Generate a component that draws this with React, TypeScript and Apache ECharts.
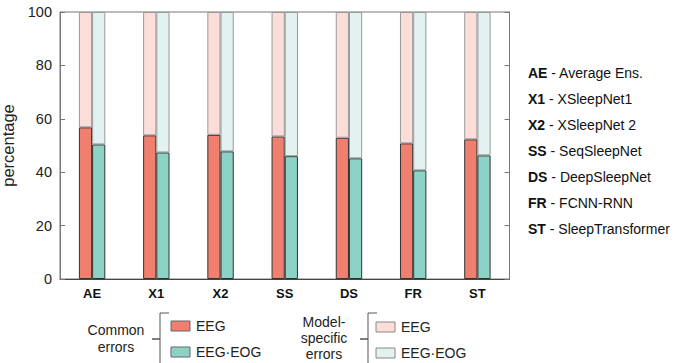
import React, { useEffect, useRef } from "react";
import * as echarts from "echarts";

const categories = ["AE", "X1", "X2", "SS", "DS", "FR", "ST"];
const commonEEG = [56.8, 53.8, 54.0, 53.4, 52.9, 50.8, 52.3];
const commonEEGEOG = [50.4, 47.4, 47.8, 46.0, 45.2, 40.7, 46.3];
const yTicks = [0, 20, 40, 60, 80, 100];
const modelNames = [
  ["AE", "Average Ens."],
  ["X1", "XSleepNet1"],
  ["X2", "XSleepNet 2"],
  ["SS", "SeqSleepNet"],
  ["DS", "DeepSleepNet"],
  ["FR", "FCNN-RNN"],
  ["ST", "SleepTransformer"],
];

const FONT = "'Liberation Sans', Arial, Helvetica, sans-serif";
const C_EEG = "#F17F6F";
const C_EOG = "#8CD2C5";
const C_EEG_L = "#FBDEDA";
const C_EOG_L = "#E2F2F0";

export default function App() {
  const ref = useRef<HTMLDivElement>(null);
  useEffect(() => {
    if (!ref.current) return;
    const chart = echarts.init(ref.current, undefined, { renderer: "svg" });
    const specEEG = commonEEG.map((v) => +(100 - v).toFixed(2));
    const specEOG = commonEEGEOG.map((v) => +(100 - v).toFixed(2));

    const legendRows: any[] = modelNames.map((m, i) => ({
      type: "text",
      x: 528,
      y: 73 + i * 26,
      style: {
        text: `{b|${m[0]}}{n| - ${m[1]}}`,
        fontFamily: FONT,
        fontSize: 14,
        fill: "#111",
        verticalAlign: "middle",
        rich: {
          b: { fontWeight: "bold", fontSize: 14, fontFamily: FONT, fill: "#111" },
          n: { fontWeight: "normal", fontSize: 14, fontFamily: FONT, fill: "#111" },
        },
      },
    }));

    const txt = (text: string, x: number, y: number, align = "center") => ({
      type: "text",
      x,
      y,
      style: {
        text,
        fontFamily: FONT,
        fontSize: 14,
        fill: "#222",
        align,
        verticalAlign: "middle",
      },
    });
    const swatch = (x: number, y: number, fill: string, stroke: string) => ({
      type: "rect",
      shape: { x, y, width: 19, height: 10 },
      style: { fill, stroke, lineWidth: 1 },
    });
    const bracket = (x: number) => ({
      type: "polyline",
      shape: {
        points: [
          [x + 9, 313],
          [x, 313],
          [x, 339],
          [x - 8, 339],
          [x, 339],
          [x, 365],
          [x + 9, 365],
        ],
      },
      style: { stroke: "#555", lineWidth: 1, fill: null },
    });

    chart.setOption({
      animation: false,
      grid: {
        left: 60,
        right: 164.5,
        top: 12,
        bottom: 84,
        containLabel: false,
        outerBoundsMode: "none",
        show: true,
        borderColor: "#777",
        borderWidth: 1,
      },
      xAxis: {
        type: "category",
        data: categories,
        axisLine: { show: true, lineStyle: { color: "#444" } },
        axisTick: { show: false },
        axisLabel: {
          fontFamily: FONT,
          fontSize: 13,
          fontWeight: "bold",
          color: "#111",
          margin: 8,
        },
      },
      yAxis: [
        {
          type: "value",
          min: 0,
          max: 100,
          interval: 20,
          name: "percentage",
          nameLocation: "middle",
          nameGap: 36,
          nameTextStyle: { fontFamily: FONT, fontSize: 16.5, color: "#222" },
          axisLine: { show: true, lineStyle: { color: "#777" } },
          axisTick: { show: true, inside: true, length: 5, lineStyle: { color: "#777" } },
          splitLine: { show: false },
          axisLabel: {
            fontFamily: FONT,
            fontSize: 14.5,
            color: "#222",
            margin: 8,
            formatter: (v: number) => (yTicks.includes(v) ? String(v) : ""),
          },
        },
        {
          type: "value",
          min: 0,
          max: 100,
          interval: 20,
          position: "right",
          axisLine: { show: true, lineStyle: { color: "#777" } },
          axisTick: { show: true, inside: true, length: 5, lineStyle: { color: "#777" } },
          splitLine: { show: false },
          axisLabel: { show: false },
        },
      ],
      series: [
        {
          type: "bar",
          stack: "eeg",
          data: commonEEG,
          barWidth: 13.2,
          barGap: "0%",
          itemStyle: { color: C_EEG, borderColor: "#333", borderWidth: 1 },
        },
        {
          type: "bar",
          stack: "eeg",
          data: specEEG,
          barWidth: 13.2,
          barGap: "0%",
          itemStyle: { color: C_EEG_L, borderColor: "#999", borderWidth: 1 },
        },
        {
          type: "bar",
          stack: "eog",
          data: commonEEGEOG,
          barWidth: 13.2,
          barGap: "0%",
          itemStyle: { color: C_EOG, borderColor: "#333", borderWidth: 1 },
        },
        {
          type: "bar",
          stack: "eog",
          data: specEOG,
          barWidth: 13.2,
          barGap: "0%",
          itemStyle: { color: C_EOG_L, borderColor: "#999", borderWidth: 1 },
        },
      ],
      graphic: [
        ...legendRows,
        txt("Common", 116, 330),
        txt("errors", 116, 347),
        bracket(160),
        swatch(171, 321, C_EEG, "#666"),
        txt("EEG", 196, 326, "left"),
        swatch(171, 347, C_EOG, "#666"),
        txt("EEG·EOG", 196, 352, "left"),
        txt("Model-", 324, 322),
        txt("specific", 324, 338),
        txt("errors", 324, 354),
        bracket(368),
        swatch(376, 322, C_EEG_L, "#888"),
        txt("EEG", 401, 327, "left"),
        swatch(376, 348, C_EOG_L, "#888"),
        txt("EEG·EOG", 401, 353, "left"),
      ],
    });
    return () => chart.dispose();
  }, []);
  return (
    <div
      ref={ref}
      style={{ position: "fixed", left: 0, top: 0, width: 674, height: 363, background: "#fff" }}
    />
  );
}
